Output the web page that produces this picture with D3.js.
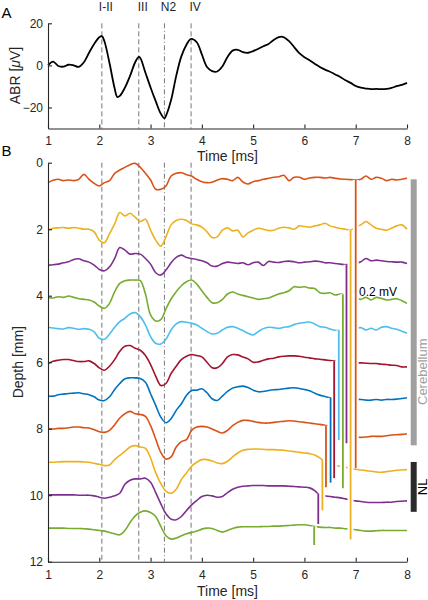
<!DOCTYPE html>
<html><head><meta charset="utf-8">
<script src="https://cdn.jsdelivr.net/npm/d3@7"></script>
<style>
body{margin:0;background:#fff}
svg{display:block}
text{font-family:Arial,"Liberation Sans",Helvetica,sans-serif}
</style>
</head><body>
<svg id="c" width="428" height="600"></svg>
<script>
// ---------- DATA ----------
const abrTime = [1.0,1.1,1.2,1.3,1.4,1.5,1.6,1.7,1.8,1.9,
  2.0,2.05,2.1,2.2,2.3,2.35,2.4,2.5,2.6,2.7,
  2.77,2.8,2.9,3.0,3.1,3.2,3.27,3.3,3.4,3.5,
  3.6,3.7,3.79,3.9,4.0,4.1,4.2,4.3,4.4,4.5,
  4.6,4.7,4.8,4.9,5.0,5.1,5.2,5.3,5.4,5.5,
  5.55,5.6,5.7,5.8,5.9,6.0,6.1,6.2,6.3,6.4,
  6.5,6.6,6.7,6.8,6.9,7.0,7.1,7.2,7.3,7.4,
  7.5,7.6,7.7,7.8,7.9,8.0];
const abrValue = [0.0,1.8,-0.3,-0.6,0.3,0.0,-0.7,1.5,6.0,10.2,
  13.4,13.9,11.5,1.0,-11.0,-15.0,-14.5,-10.6,-5.0,1.5,
  4.0,3.5,-3.5,-10.5,-17.0,-23.0,-25.2,-24.0,-16.5,-5.0,
  4.3,9.8,12.6,11.0,5.2,-0.8,-2.7,-2.9,-0.5,4.0,
  7.0,7.4,6.3,6.0,6.8,7.9,9.1,10.2,12.1,13.4,
  13.7,13.4,11.5,8.7,5.8,3.9,2.4,0.8,-0.8,-2.0,
  -3.0,-4.3,-5.5,-7.1,-8.3,-9.8,-10.6,-11.0,-11.3,-11.2,
  -11.3,-11.2,-10.7,-9.9,-9.3,-8.3];

const eventTimes  = [2.05, 2.77, 3.27, 3.79];
const eventLabels = ["I-II", "III", "N2", "IV"];

const traceTime = [1.0,1.1,1.2,1.3,1.4,1.5,1.6,1.7,1.8,1.9,
  2.0,2.1,2.2,2.3,2.4,2.5,2.6,2.7,2.8,2.9,
  3.0,3.1,3.2,3.3,3.4,3.5,3.6,3.7,3.8,3.9,
  4.0,4.1,4.2,4.3,4.4,4.5,4.6,4.7,4.8,4.9,
  5.0,5.1,5.2,5.3,5.4,5.5,5.6,5.7,5.8,5.9,
  6.0,6.1,6.2,6.3,6.4,6.5,6.6,6.7,6.8,6.9,
  7.0,7.1,7.2,7.3,7.4,7.5,7.6,7.7,7.8,7.9,8.0];

// displayed depth (mm) of each recording trace
const trace1 = [0.60,0.53,0.50,0.54,0.52,0.54,0.50,0.35,0.50,0.62,
  0.70,0.60,0.54,0.32,0.22,0.14,0.06,0.02,0.14,0.32,
  0.52,0.80,0.80,0.70,0.40,0.32,0.30,0.36,0.40,0.50,
  0.57,0.60,0.59,0.52,0.48,0.50,0.54,0.44,0.58,0.64,
  0.57,0.54,0.50,0.47,0.44,0.42,0.38,0.54,0.44,0.44,
  0.50,0.46,0.44,0.44,0.46,0.44,0.47,0.49,0.50,0.51,
  0.52,0.50,0.40,0.50,0.44,0.47,0.54,0.50,0.52,0.50,0.47];
const trace2 = [2.03,1.97,1.96,1.95,1.97,1.95,1.97,2.00,2.00,2.08,
  2.33,2.41,2.13,1.84,1.50,1.60,1.52,1.64,1.77,1.70,
  2.03,2.33,2.51,2.23,1.87,1.74,1.70,1.74,1.84,1.87,
  1.94,2.08,2.25,2.23,2.03,1.96,2.05,2.03,2.23,2.11,
  2.03,1.97,2.00,2.04,2.03,1.97,1.94,1.96,2.00,1.90,
  1.92,1.94,1.90,1.87,1.82,1.90,1.94,1.98,2.00,2.03,
  1.94,1.87,1.77,1.87,1.97,2.00,2.03,1.97,1.90,1.87,2.00];
const trace3 = [3.08,3.07,3.05,3.01,2.98,2.91,2.89,2.95,2.99,3.08,
  3.21,3.25,3.13,2.88,2.55,2.63,2.75,2.73,2.75,2.88,
  3.05,3.31,3.38,3.23,3.01,2.85,2.78,2.85,2.88,2.91,
  2.95,3.01,3.11,3.11,3.03,2.99,3.01,3.03,3.01,3.07,
  3.01,2.99,3.09,2.97,2.99,3.00,2.97,2.96,2.98,3.01,
  2.99,2.98,2.96,2.97,3.01,3.01,3.03,3.05,3.07,3.05,
  3.03,2.98,2.88,2.95,2.93,2.95,2.97,2.98,2.99,2.99,3.03];
const trace4 = [4.05,4.07,4.03,4.05,4.01,4.05,4.09,4.11,4.13,4.19,
  4.31,4.38,4.23,3.88,3.63,3.55,3.53,3.53,3.55,3.95,
  4.58,4.76,4.72,4.40,4.10,3.88,3.70,3.58,3.53,3.65,
  3.85,4.05,4.21,4.21,4.11,3.95,3.89,3.95,3.99,4.03,
  4.07,4.11,4.09,4.07,4.01,3.95,3.91,3.85,3.73,3.75,
  3.73,3.77,3.78,3.91,3.93,3.91,3.98,3.95,3.97,4.02,
  4.08,4.11,4.05,4.13,4.05,4.08,4.13,4.11,4.09,4.15,4.23];
const trace5 = [4.95,4.97,4.99,5.00,4.96,4.98,5.01,4.99,5.01,5.09,
  5.28,5.31,5.15,4.95,4.78,4.68,4.55,4.51,4.63,4.88,
  5.23,5.43,5.45,5.31,5.03,4.85,4.78,4.80,4.83,4.88,
  4.98,5.08,5.15,5.13,5.03,4.95,4.93,4.98,5.05,5.13,
  5.18,5.08,4.99,4.95,4.96,4.98,4.95,4.93,4.87,4.83,
  4.81,4.79,4.85,4.93,4.95,5.00,5.04,5.05,5.03,5.00,
  4.98,4.96,5.03,4.98,5.03,4.95,4.93,4.98,5.01,5.07,5.13];
const trace6 = [6.04,5.97,5.94,5.92,5.92,5.95,5.98,5.98,5.96,6.04,
  6.17,6.24,6.12,5.92,5.67,5.52,5.50,5.58,5.64,5.80,
  6.07,6.42,6.70,6.64,6.34,6.12,5.92,5.82,5.77,5.80,
  5.84,6.00,6.17,6.17,6.04,5.84,5.77,5.78,5.84,5.90,
  6.00,5.99,5.94,5.90,5.88,5.84,5.82,5.81,5.81,5.82,
  5.85,5.87,5.90,5.91,5.93,5.95,5.97,5.99,6.00,6.01,
  6.02,6.02,6.03,6.04,6.04,6.06,6.07,6.09,6.10,6.14,6.14];
const trace7 = [7.02,7.02,6.98,6.96,6.94,6.93,6.92,6.95,6.98,7.04,
  7.14,7.15,7.04,6.82,6.64,6.50,6.47,6.47,6.49,6.60,
  6.95,7.30,7.65,7.82,7.70,7.45,7.25,7.00,6.85,6.84,
  6.80,6.92,7.10,7.15,7.02,6.88,6.78,6.74,6.72,6.76,
  6.84,6.89,6.88,6.85,6.83,6.82,6.80,6.78,6.77,6.79,
  6.82,6.86,6.93,6.99,7.03,7.07,7.09,7.10,7.11,7.12,
  7.12,7.12,7.14,7.14,7.12,7.14,7.12,7.12,7.11,7.09,7.07];
const trace8 = [8.01,8.01,7.99,7.99,7.97,7.95,7.95,7.97,7.98,8.03,
  8.09,8.11,8.05,7.88,7.68,7.55,7.48,7.55,7.57,7.63,
  7.91,8.31,8.71,8.91,8.85,8.55,8.39,8.33,8.05,7.95,
  7.93,7.95,8.01,8.08,8.13,8.05,7.91,7.81,7.75,7.75,
  7.78,7.81,7.83,7.83,7.81,7.79,7.78,7.76,7.77,7.79,
  7.81,7.83,7.85,7.87,7.90,7.95,8.02,8.10,8.17,8.22,
  8.25,8.26,8.25,8.23,8.23,8.23,8.21,8.19,8.18,8.17,8.15];
const trace9 = [9.01,9.01,9.00,8.99,8.99,8.99,8.99,9.00,9.01,9.04,
  9.07,9.11,9.09,8.93,8.80,8.68,8.55,8.51,8.55,8.59,
  8.88,9.33,9.65,9.88,9.94,9.82,9.53,9.33,9.13,9.01,
  8.93,8.93,8.97,9.03,9.05,8.98,8.85,8.73,8.65,8.62,
  8.61,8.61,8.62,8.63,8.63,8.64,8.65,8.67,8.69,8.71,
  8.73,8.75,8.79,8.88,9.01,9.07,9.11,9.13,9.16,9.19,
  9.22,9.24,9.26,9.28,9.30,9.31,9.29,9.27,9.25,9.24,9.23];
const trace10 = [9.99,9.99,9.99,9.99,9.99,9.99,10.00,10.00,10.00,10.02,
  10.06,10.09,10.06,10.02,9.94,9.67,9.55,9.51,9.51,9.49,
  9.61,9.92,10.26,10.56,10.72,10.74,10.64,10.46,10.29,10.16,
  10.04,10.00,10.02,10.06,10.04,9.92,9.82,9.76,9.73,9.72,
  9.71,9.71,9.71,9.72,9.72,9.72,9.72,9.73,9.74,9.75,
  9.76,9.78,9.86,10.00,10.02,10.04,10.06,10.08,10.11,10.14,
  10.17,10.19,10.21,10.22,10.22,10.22,10.21,10.21,10.19,10.18,10.17];
const trace11 = [10.99,10.99,10.99,10.99,11.00,11.00,11.00,11.01,11.02,11.04,
  11.06,11.08,11.12,11.16,11.19,11.06,10.82,10.62,10.51,10.47,
  10.52,10.64,10.94,11.22,11.32,11.29,11.22,11.16,11.12,11.08,
  11.02,10.99,11.00,11.06,11.11,11.06,11.00,10.96,10.95,10.95,
  10.95,10.95,10.94,10.94,10.93,10.93,10.92,10.91,10.90,10.89,
  10.89,10.91,10.94,10.96,10.97,10.97,10.99,10.99,11.01,11.02,
  11.04,11.06,11.08,11.08,11.07,11.06,11.06,11.06,11.06,11.06,11.06];
const traces = [trace1,trace2,trace3,trace4,trace5,trace6,trace7,trace8,trace9,trace10,trace11];

// 0.2 mV scale bar of each trace: time position and length in depth-axis units
const scaleBarTime = [7.00,6.90,6.82,6.75,6.67,6.58,6.51,6.42,6.35,6.27,6.19];
const scaleBarLen  = [8.67,9.30,5.37,5.83,3.29,3.52,2.55,1.85,1.51,0.91,0.56];
const scaleBarLabel = "0.2 mV";

const regionNames = ["Cerebellum", "NL"];
const regionStart = [0.5, 9.0];
const regionEnd   = [8.5, 10.5];

const xTicks = [1,2,3,4,5,6,7,8];
const abrTicks = [-20,0,20];
const depthTicks = [0,2,4,6,8,10,12];

// ---------- STYLE ----------
const matlab = ["#0072BD","#D95319","#EDB120","#7E2F8E","#77AC30","#4DBEEE","#A2142F"];
const traceColors = [matlab[1],matlab[2],matlab[3],matlab[4],matlab[5],matlab[6],matlab[0],matlab[1],matlab[2],matlab[3],matlab[4]];
const axisColor = "#262626";
const regionColors = ["#a0a0a0", "#2b2b2b"];

const svg = d3.select("#c");
const x = d3.scaleLinear().domain([1,8]).range([48,407]);
const yA = d3.scaleLinear().domain([-30,20]).range([128.5,23.3]);
const yB = d3.scaleLinear().domain([0,12]).range([162.7,561.7]);

function styleAxis(g){
  g.selectAll("path").attr("stroke",axisColor).attr("stroke-width",1.1);
  g.selectAll("line").attr("stroke",axisColor).attr("stroke-width",1.1);
  g.selectAll("text").attr("fill",axisColor).attr("font-size",12)
    .attr("font-family","Arial, 'Liberation Sans', sans-serif");
}

// ---------- PANEL A ----------
const gA = svg.append("g");
eventTimes.forEach((t,i)=>{
  gA.append("line").attr("x1",x(t)).attr("x2",x(t)).attr("y1",yA(20)).attr("y2",yA(-30))
    .attr("stroke","#777").attr("stroke-width",1)
    .attr("stroke-dasharray", eventLabels[i]==="N2" ? "5,2.5,1,2.5" : "5,3");
  svg.append("text").attr("x",x(t)+4).attr("y",10.7).attr("text-anchor","middle")
    .attr("font-size",12).attr("fill",axisColor).text(eventLabels[i]);
});
const abrLine = d3.line().x((d,i)=>x(abrTime[i])).y(d=>yA(d)).curve(d3.curveCatmullRom.alpha(0.5));
gA.append("path").attr("d",abrLine(abrValue)).attr("fill","none").attr("stroke","#000").attr("stroke-width",1.8);

gA.append("g").attr("transform",`translate(0,${yA(-30)})`)
  .call(d3.axisBottom(x).tickValues(xTicks).tickFormat(d3.format("d")).tickSizeInner(-4).tickSizeOuter(0).tickPadding(7.5))
  .call(styleAxis);
gA.append("g").attr("transform",`translate(${x(1)},0)`)
  .call(d3.axisLeft(yA).tickValues(abrTicks).tickSizeInner(-4).tickSizeOuter(0).tickPadding(5))
  .call(styleAxis);
svg.append("text").attr("x",227.5).attr("y",160.8).attr("text-anchor","middle")
  .attr("font-size",14).attr("fill",axisColor).text("Time [ms]");
const abrLab = svg.append("text").attr("transform","translate(19.5,75.5) rotate(-90)")
  .attr("text-anchor","middle").attr("font-size",14).attr("fill",axisColor);
abrLab.append("tspan").text("ABR [");
abrLab.append("tspan").attr("font-style","italic").text("\u03bc");
abrLab.append("tspan").text("V]");
svg.append("text").attr("x",1.5).attr("y",17.5).attr("font-size",15).attr("fill","#000").text("A");

// ---------- PANEL B ----------
const gB = svg.append("g");
eventTimes.forEach((t,i)=>{
  gB.append("line").attr("x1",x(t)).attr("x2",x(t)).attr("y1",yB(0)).attr("y2",yB(12))
    .attr("stroke","#777").attr("stroke-width",1)
    .attr("stroke-dasharray", eventLabels[i]==="N2" ? "5,2.5,1,2.5" : "5,3");
});
const trLine = d3.line().x((d,i)=>x(traceTime[i])).y(d=>yB(d)).curve(d3.curveCatmullRom.alpha(0.5));
traces.forEach((tr,k)=>{
  gB.append("path").attr("d",trLine(tr)).attr("fill","none")
    .attr("stroke",traceColors[k]).attr("stroke-width",1.6).attr("stroke-linejoin","round");
});
function valueAt(tr,t){
  const i = d3.bisectLeft(traceTime,t);
  if (i<=0) return tr[0];
  const t0=traceTime[i-1], t1=traceTime[i];
  const f=(t-t0)/(t1-t0);
  return tr[i-1]+(tr[i]-tr[i-1])*f;
}
const bars = traces.map((tr,k)=>{
  const top = valueAt(tr,scaleBarTime[k]);
  return {x:x(scaleBarTime[k]), y1:yB(top), y2:yB(top+scaleBarLen[k]), c:traceColors[k]};
});
bars.forEach(b=>{
  gB.append("line").attr("x1",b.x).attr("x2",b.x).attr("y1",b.y1).attr("y2",b.y2)
    .attr("stroke","#fff").attr("stroke-width",6);
});
bars.forEach(b=>{
  gB.append("line").attr("x1",b.x).attr("x2",b.x).attr("y1",b.y1).attr("y2",b.y2)
    .attr("stroke",b.c).attr("stroke-width",1.8);
});
svg.append("text").attr("x",359).attr("y",295.7).attr("font-size",12).attr("fill","#000").text(scaleBarLabel);

gB.append("g").attr("transform",`translate(0,${yB(12)})`)
  .call(d3.axisBottom(x).tickValues(xTicks).tickFormat(d3.format("d")).tickSizeInner(-4).tickSizeOuter(0).tickPadding(8.3))
  .call(styleAxis);
gB.append("g").attr("transform",`translate(${x(1)},0)`)
  .call(d3.axisLeft(yB).tickValues(depthTicks).tickSizeInner(-4).tickSizeOuter(0).tickPadding(5))
  .call(styleAxis);
svg.append("text").attr("x",227.5).attr("y",596).attr("text-anchor","middle")
  .attr("font-size",14).attr("fill",axisColor).text("Time [ms]");
svg.append("text").attr("transform",`translate(23,${(yB(0)+yB(12))/2}) rotate(-90)`)
  .attr("text-anchor","middle").attr("font-size",14).attr("fill",axisColor).text("Depth [mm]");
svg.append("text").attr("x",1.5).attr("y",156).attr("font-size",15).attr("fill","#000").text("B");

// region bars
regionNames.forEach((n,i)=>{
  svg.append("rect").attr("x",410.7).attr("width",6).attr("y",yB(regionStart[i]))
    .attr("height",yB(regionEnd[i])-yB(regionStart[i])).attr("fill",regionColors[i]);
});
svg.append("text").attr("transform",`translate(426.5,405) rotate(-90)`)
  .attr("text-anchor","start").attr("font-size",13).attr("fill",regionColors[0]).text(regionNames[0]);
svg.append("text").attr("transform",`translate(426.5,${(yB(regionStart[1])+yB(regionEnd[1]))/2}) rotate(-90)`)
  .attr("text-anchor","middle").attr("font-size",13).attr("fill","#000").text(regionNames[1]);
</script>
</body></html>
